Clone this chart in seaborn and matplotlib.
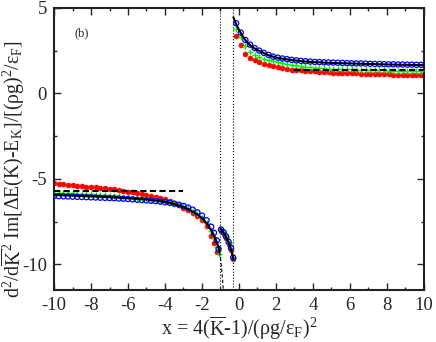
import numpy as np
import matplotlib
matplotlib.use('Agg')
import matplotlib.pyplot as plt
import seaborn as sns

# ---- data ----
# right branch (x > -0.3)
x_right = [-0.15, 0.1, 0.35, 0.6, 0.85, 1.1, 1.35, 1.6, 1.85, 2.1, 2.35, 2.6, 2.85, 3.1,
           3.35, 3.6, 3.85, 4.1, 4.35, 4.6, 4.85, 5.1, 5.35, 5.6, 5.85, 6.1, 6.35, 6.6,
           6.85, 7.1, 7.35, 7.6, 7.85, 8.1, 8.35, 8.6, 8.85, 9.1, 9.35, 9.6, 9.85]
blue_right = [4.1, 3.55, 3.12, 2.85, 2.65, 2.5, 2.37, 2.25, 2.15, 2.09, 2.04, 2.0, 1.96, 1.93,
              1.9, 1.88, 1.86, 1.84, 1.83, 1.82, 1.81, 1.8, 1.79, 1.78, 1.77, 1.76, 1.75, 1.75,
              1.74, 1.73, 1.72, 1.72, 1.71, 1.7, 1.7, 1.69, 1.69, 1.68, 1.68, 1.67, 1.67]
green_right = [3.75, 3.3, 2.76, 2.42, 2.24, 2.11, 2.01, 1.93, 1.87, 1.81, 1.76, 1.72, 1.68, 1.64,
               1.6, 1.57, 1.54, 1.51, 1.49, 1.47, 1.45, 1.44, 1.43, 1.42, 1.41, 1.4, 1.39, 1.38,
               1.37, 1.36, 1.35, 1.35, 1.34, 1.33, 1.33, 1.32, 1.32, 1.31, 1.31, 1.3, 1.3]
red_right = [3.38, 2.8, 2.32, 2.08, 1.93, 1.81, 1.72, 1.64, 1.58, 1.52, 1.47, 1.42, 1.39, 1.36,
             1.34, 1.32, 1.3, 1.28, 1.26, 1.25, 1.24, 1.22, 1.21, 1.2, 1.19, 1.18, 1.17, 1.16,
             1.15, 1.14, 1.13, 1.12, 1.12, 1.11, 1.1, 1.1, 1.09, 1.08, 1.08, 1.07, 1.07]
xl_right = [-0.3, -0.15, 0.0, 0.2, 0.4, 0.6, 0.8, 1.0, 1.3, 1.6, 2.0, 2.5, 3.0, 3.5, 4.0,
            5.0, 6.0, 7.0, 8.0, 9.0, 10.0]
line_right = [4.45, 4.05, 3.72, 3.34, 3.04, 2.82, 2.66, 2.54, 2.38, 2.23, 2.1, 2.0, 1.93,
              1.87, 1.83, 1.78, 1.75, 1.72, 1.69, 1.67, 1.65]

# left branch (x < -1)
x_left = [-10, -9.75, -9.5, -9.25, -9, -8.75, -8.5, -8.25, -8, -7.75, -7.5, -7.25, -7,
          -6.75, -6.5, -6.25, -6, -5.75, -5.5, -5.25, -5, -4.75, -4.5, -4.25, -4, -3.75,
          -3.5, -3.25, -3, -2.75, -2.5, -2.25, -2, -1.75, -1.5, -1.35, -1.2, -1.1]
blue_left = [-6.0, -6.01, -6.02, -6.03, -6.04, -6.05, -6.06, -6.07, -6.08, -6.09, -6.1, -6.11,
             -6.12, -6.13, -6.15, -6.16, -6.18, -6.2, -6.22, -6.24, -6.26, -6.28, -6.3, -6.33,
             -6.36, -6.4, -6.45, -6.51, -6.58, -6.68, -6.8, -6.96, -7.15, -7.42, -7.8, -8.15,
             -8.6, -9.1]
green_left = [-5.8, -5.81, -5.82, -5.83, -5.85, -5.86, -5.88, -5.89, -5.91, -5.93, -5.94, -5.96,
              -5.98, -6.0, -6.02, -6.05, -6.07, -6.1, -6.13, -6.16, -6.19, -6.22, -6.26, -6.3,
              -6.34, -6.39, -6.45, -6.52, -6.6, -6.72, -6.86, -7.04, -7.26, -7.58, -8.05, -8.45,
              -9.0, -9.4]
red_left = [-5.27, -5.29, -5.32, -5.34, -5.37, -5.4, -5.42, -5.45, -5.47, -5.5, -5.53, -5.56,
            -5.59, -5.62, -5.66, -5.7, -5.74, -5.78, -5.83, -5.88, -5.93, -5.98, -6.04, -6.11,
            -6.2, -6.3, -6.41, -6.54, -6.68, -6.83, -6.98, -7.15, -7.4, -7.78, -8.35, -8.75,
            -9.3, np.nan]
xl_left = [-10, -9, -8, -7, -6, -5, -4.5, -4, -3.5, -3, -2.75, -2.5, -2.25, -2, -1.75, -1.5,
           -1.35, -1.2, -1.1, -1.04]
line_left = [-5.94, -5.98, -6.02, -6.07, -6.13, -6.21, -6.27, -6.35, -6.47, -6.64, -6.76,
             -6.91, -7.08, -7.28, -7.6, -8.0, -8.3, -8.7, -9.0, -9.25]
x_extrap = [-1.3, -1.2, -1.1, -1.0, -0.95, -0.9, -0.85, -0.82]
y_extrap = [-8.35, -8.7, -9.0, -9.6, -10.1, -10.7, -11.4, -12.0]

# middle segment (-1 < x < -0.3)
x_mid = [-0.97, -0.83, -0.69, -0.56, -0.43, -0.31]
blue_mid = [-7.96, -8.12, -8.38, -8.68, -9.04, -9.6]
green_mid = [-7.99, -8.16, -8.42, -8.73, -9.1, -9.65]
red_mid = [-8.02, -8.2, -8.46, -8.78, -9.15, -9.7]
xl_mid = [-1.0, -0.9, -0.8, -0.7, -0.6, -0.5, -0.4, -0.3]
line_mid = [-7.9, -8.05, -8.2, -8.4, -8.62, -8.9, -9.25, -9.7]

# asymptotes and singular points
asym_left_x = [-10, -3]
asym_left_y = [-5.7, -5.7]
asym_right_x = [3, 10]
asym_right_y = [1.39, 1.39]
x_singular = [-1.0, -0.3]

# ---- style ----
sns.set_style('ticks')
plt.rcParams['font.family'] = ['Liberation Serif', 'DejaVu Serif']
plt.rcParams['mathtext.fontset'] = 'custom'
plt.rcParams['mathtext.rm'] = 'Liberation Serif'
plt.rcParams['mathtext.it'] = 'Liberation Serif:italic'
plt.rcParams['axes.unicode_minus'] = False

fig = plt.figure(figsize=(4.36, 3.42), dpi=100)
ax = fig.add_axes([0.124, 0.152, 0.848, 0.825])

for xs, ys in [(x_left, red_left), (x_mid, red_mid), (x_right, red_right)]:
    sns.scatterplot(x=xs, y=ys, ax=ax, color='#ff0000', marker='o', s=13,
                    edgecolor='#ff0000', linewidth=0.4, zorder=2)
for xs, ys in [(x_left, green_left), (x_mid, green_mid), (x_right, green_right)]:
    sns.scatterplot(x=xs, y=ys, ax=ax, color='#00ee00', marker='+', s=18,
                    linewidth=1.0, zorder=3)
for xs, ys in [(x_left, blue_left), (x_mid, blue_mid), (x_right, blue_right)]:
    sns.scatterplot(x=xs, y=ys, ax=ax, marker='o', s=14, facecolor='none',
                    edgecolor='#0000ff', linewidth=0.9, zorder=4)

for xs, ys in [(xl_left, line_left), (xl_mid, line_mid), (xl_right, line_right)]:
    sns.lineplot(x=xs, y=ys, ax=ax, color='black', lw=1.5, sort=False,
                 estimator=None, zorder=5)
sns.lineplot(x=x_extrap, y=y_extrap, ax=ax, color='black', lw=0.8, sort=False,
             estimator=None, zorder=5).lines[-1].set_dashes([3, 2])
for xs, ys in [(asym_left_x, asym_left_y), (asym_right_x, asym_right_y)]:
    sns.lineplot(x=xs, y=ys, ax=ax, color='black', lw=1.5, estimator=None,
                 zorder=6).lines[-1].set_dashes([3, 1.6])
for xv in x_singular:
    ax.axvline(xv, color='black', lw=0.8, ls=':', zorder=1)

ax.set_xlim(-10, 10)
ax.set_ylim(-11.5, 5)
ax.set_xticks(range(-10, 11, 2))
ax.set_xticks(range(-9, 10, 2), minor=True)
ax.set_yticks([-10, -5, 0, 5])
ax.set_yticks([-7.5, -2.5, 2.5], minor=True)
ax.tick_params(which='both', direction='in', top=True, right=True, labelsize=13.5,
               width=1, pad=5)
ax.tick_params(which='major', length=5)
ax.tick_params(which='minor', length=2.5)
for sp in ax.spines.values():
    sp.set_linewidth(1.5)
    sp.set_color('#222222')

ax.text(-8.5, 3.5, '(b)', fontsize=9, ha='center', va='center')
ax.set_xlabel('x = 4($\\overline{\\mathrm{K}}$-1)/(ρg/ε$_\\mathrm{F}$)$^2$',
              fontsize=14.5, labelpad=0)
ax.set_ylabel('d$^2$/d$\\overline{\\mathrm{K}}^{2}$ Im[ΔE(K)-E$_\\mathrm{K}$]/[(ρg)$^2$/ε$_\\mathrm{F}$]',
              fontsize=14.2)
ax.yaxis.set_label_coords(-0.072, 0.43)

fig.savefig('out.png', dpi=100)
